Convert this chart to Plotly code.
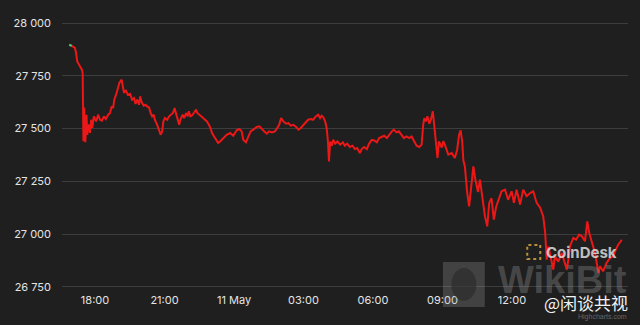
import pandas as pd
import plotly.graph_objects as go

# time = minutes after 10 May 2023 00:00 ; price in USD
minutes = [1013, 1020, 1028, 1031, 1034, 1041, 1046, 1048, 1050, 1052, 1055, 1058, 1060, 1063, 1067, 1070,
           1073, 1077, 1083, 1088, 1093, 1098, 1103, 1108, 1114, 1119, 1123, 1127, 1130, 1136, 1140, 1143,
           1149, 1151, 1155, 1160, 1165, 1171, 1176, 1181, 1185, 1189, 1194, 1197, 1200, 1206, 1211, 1215,
           1220, 1224, 1228, 1232, 1235, 1241, 1246, 1250, 1254, 1257, 1261, 1267, 1272, 1277, 1282, 1286,
           1290, 1294, 1298, 1301, 1307, 1311, 1316, 1320, 1323, 1327, 1331, 1336, 1342, 1345, 1349, 1355,
           1360, 1365, 1370, 1375, 1379, 1383, 1388, 1393, 1399, 1404, 1412, 1421, 1430, 1438, 1447, 1454,
           1460, 1464, 1471, 1477, 1483, 1490, 1499, 1506, 1512, 1518, 1525, 1531, 1538, 1546, 1552, 1557,
           1562, 1568, 1575, 1581, 1587, 1594, 1601, 1607, 1613, 1620, 1626, 1632, 1639, 1645, 1652, 1658,
           1663, 1667, 1671, 1676, 1680, 1683, 1686, 1689, 1693, 1697, 1702, 1708, 1715, 1722, 1727, 1733,
           1740, 1747, 1753, 1759, 1766, 1771, 1777, 1784, 1790, 1797, 1803, 1810, 1816, 1823, 1829, 1836,
           1842, 1849, 1854, 1861, 1867, 1874, 1880, 1887, 1894, 1900, 1906, 1913, 1920, 1926, 1930, 1933,
           1937, 1941, 1946, 1950, 1955, 1958, 1963, 1967, 1971, 1978, 1982, 1986, 1995, 2004, 2012, 2018,
           2023, 2027, 2031, 2034, 2038, 2044, 2049, 2053, 2060, 2065, 2072, 2077, 2084, 2090, 2096, 2101,
           2107, 2113, 2119, 2125, 2133, 2142, 2150, 2159, 2165, 2172, 2181, 2189, 2198, 2207, 2215, 2224,
           2233, 2241, 2246, 2250, 2254, 2258, 2263, 2267, 2271, 2280, 2289, 2297, 2302, 2306, 2310, 2319,
           2326, 2334, 2341, 2349, 2355, 2360, 2367, 2375, 2384, 2388, 2396, 2405, 2414, 2422, 2429, 2435,
           2442, 2444]

prices = [27897, 27892, 27882, 27858, 27818, 27795, 27779, 27763, 27440, 27600, 27435, 27565, 27470, 27520, 27480, 27542,
          27503, 27558, 27534, 27566, 27542, 27538, 27558, 27545, 27566, 27574, 27605, 27598, 27637, 27669, 27700, 27716,
          27732, 27708, 27669, 27682, 27660, 27665, 27637, 27645, 27617, 27637, 27613, 27653, 27629, 27609, 27613, 27605,
          27600, 27574, 27558, 27566, 27542, 27518, 27487, 27471, 27487, 27534, 27550, 27542, 27558, 27566, 27574, 27597,
          27566, 27550, 27518, 27542, 27566, 27550, 27574, 27558, 27582, 27558, 27562, 27574, 27590, 27574, 27566, 27558,
          27550, 27542, 27534, 27518, 27503, 27479, 27463, 27447, 27432, 27439, 27455, 27471, 27479, 27466, 27492, 27498,
          27487, 27447, 27435, 27463, 27487, 27495, 27508, 27511, 27498, 27487, 27476, 27487, 27482, 27487, 27503, 27518,
          27550, 27534, 27523, 27526, 27514, 27518, 27508, 27495, 27503, 27518, 27529, 27542, 27545, 27542, 27558, 27566,
          27550, 27561, 27555, 27534, 27503, 27447, 27345, 27439, 27419, 27447, 27429, 27439, 27424, 27435, 27419, 27429,
          27413, 27419, 27403, 27408, 27384, 27403, 27413, 27403, 27429, 27447, 27444, 27435, 27455, 27463, 27466, 27455,
          27471, 27487, 27495, 27482, 27487, 27471, 27455, 27463, 27455, 27463, 27439, 27419, 27413, 27424, 27518, 27550,
          27534, 27558, 27523, 27542, 27582, 27526, 27463, 27361, 27439, 27410, 27440, 27424, 27377, 27384, 27361, 27400,
          27471, 27492, 27440, 27350, 27321, 27195, 27132, 27200, 27321, 27260, 27200, 27258, 27163, 27084, 27037, 27148,
          27170, 27069, 27130, 27163, 27203, 27211, 27163, 27203, 27148, 27211, 27140, 27211, 27180, 27195, 27203, 27148,
          27125, 27084, 27006, 26879, 26942, 26911, 26864, 26832, 26895, 26870, 26911, 26864, 26832, 26879, 26942, 26982,
          26974, 26998, 26990, 26966, 27061, 27006, 26966, 26911, 26816, 26848, 26824, 26864, 26887, 26895, 26927, 26950,
          26966, 26974]

tick_times = ["2023-05-10 18:00", "2023-05-10 21:00", "2023-05-11 00:00", "2023-05-11 03:00",
              "2023-05-11 06:00", "2023-05-11 09:00", "2023-05-11 12:00"]
tick_labels = ["18:00", "21:00", "11 May", "03:00", "06:00", "09:00", "12:00"]
y_ticks = [26750, 27000, 27250, 27500, 27750, 28000]

times = pd.Timestamp("2023-05-10") + pd.to_timedelta(minutes, unit="m")

BG = "#1f1f1f"
fig = go.Figure()
fig.add_trace(go.Scatter(x=times[1:], y=prices[1:], mode="lines",
                         line=dict(color="#ec1717", width=2), hoverinfo="skip"))
fig.add_trace(go.Scatter(x=times[:2], y=prices[:2], mode="lines",
                         line=dict(color="#4fc36a", width=2.2), hoverinfo="skip"))

fig.update_layout(
    width=640, height=325,
    margin=dict(l=62, r=12, t=22, b=37),
    paper_bgcolor=BG, plot_bgcolor=BG,
    showlegend=False,
    separators=". ",
    font=dict(family="Inter, Arial, sans-serif", size=11, color="#e4e4e4"),
    xaxis=dict(type="date", range=["2023-05-10 16:34:30", "2023-05-11 17:00:30"],
               tickmode="array", tickvals=tick_times, ticktext=tick_labels,
               showgrid=False, zeroline=False, showline=False, ticks="", ticklabelstandoff=4),
    yaxis=dict(range=[26745, 28005], tickmode="array", tickvals=y_ticks,
               tickformat=",d", showgrid=True, gridcolor="#3d3d3d", gridwidth=1,
               zeroline=False, showline=False, ticks="", ticklabelstandoff=10),
)

# CoinDesk logo
fig.add_shape(type="rect", xref="paper", yref="paper", x0=0.822, x1=0.845, y0=0.109, y1=0.162,
              line=dict(color="#b8913a", width=2, dash="dot"))
fig.add_annotation(xref="paper", yref="paper", x=0.917, y=0.135, xanchor="center", yanchor="middle",
                   text="<b>CoinDesk</b>", showarrow=False,
                   font=dict(family="Inter, Arial, sans-serif", size=15, color="rgba(235,235,235,0.8)"))
# WikiBit watermark
fig.add_shape(type="rect", xref="paper", yref="paper", x0=0.673, x1=0.747, y0=-0.071, y1=0.098,
              line=dict(width=0), fillcolor="rgba(170,170,170,0.25)")
fig.add_shape(type="circle", xref="paper", yref="paper", x0=0.688, x1=0.732, y0=-0.048, y1=0.075,
              line=dict(width=0), fillcolor="rgba(40,40,40,0.6)")
fig.add_annotation(xref="paper", yref="paper", x=0.885, y=0.03, xanchor="center", yanchor="middle",
                   text="<b>WikiBit</b>", showarrow=False,
                   font=dict(family="Arial, sans-serif", size=38, color="rgba(170,170,170,0.3)"))
# weibo watermark
fig.add_annotation(xref="paper", yref="paper", x=0.925, y=-0.056, xanchor="center", yanchor="middle",
                   text="@闲谈共视", showarrow=False,
                   font=dict(family="Noto Sans CJK SC", size=17, color="#f2f2f2"))
fig.add_annotation(xref="paper", yref="paper", x=0.955, y=-0.11, xanchor="center", yanchor="middle",
                   text="Highcharts.com", showarrow=False,
                   font=dict(family="Arial, sans-serif", size=7, color="#666666"))

fig.write_html("out.html")
